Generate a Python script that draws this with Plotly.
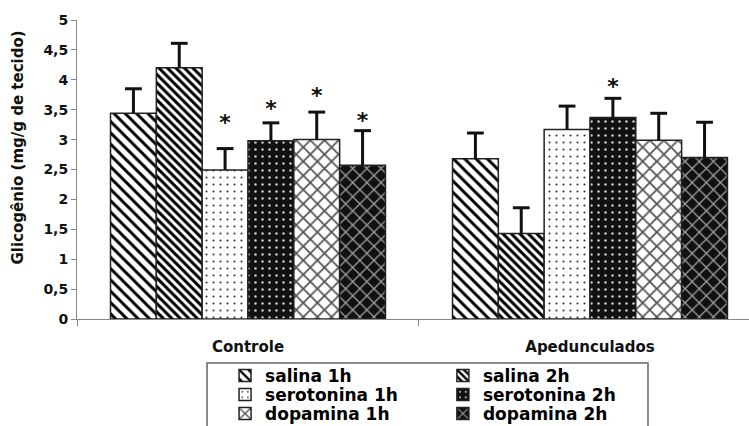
import plotly.graph_objects as go

# Glycogen content per group and treatment (mean and upper SEM)
groups = ["Controle", "Apedunculados"]
treatments = ["salina 1h", "salina 2h", "serotonina 1h",
              "serotonina 2h", "dopamina 1h", "dopamina 2h"]
controle_mean = [3.44, 4.20, 2.49, 2.98, 3.00, 2.57]
controle_err = [0.41, 0.41, 0.36, 0.30, 0.46, 0.58]
aped_mean = [2.68, 1.43, 3.17, 3.37, 2.99, 2.70]
aped_err = [0.43, 0.43, 0.39, 0.32, 0.45, 0.59]
# height of the significance asterisk (None = not significant)
controle_star = [None, None, 3.26, 3.49, 3.71, 3.28]
aped_star = [None, None, None, 3.85, None, None]
y_ticks = [0, 0.5, 1, 1.5, 2, 2.5, 3, 3.5, 4, 4.5, 5]

means = [controle_mean, aped_mean]
errs = [controle_err, aped_err]
stars = [controle_star, aped_star]

FONT = "DejaVu Sans"
n = len(treatments)
group_width = 0.804
bw = group_width / n

# fill patterns: (shape, foreground, background, size, solidity)
patterns = [
    ("\\", "#000000", "#ffffff", 8, 0.36),
    ("\\", "#000000", "#ffffff", 6, 0.5),
    (".", "#333333", "#ffffff", 7, 0.07),
    (".", "#d0d0d0", "#111111", 7, 0.1),
    ("x", "#555555", "#ffffff", 10, 0.33),
    ("x", "#a0a0a0", "#111111", 10, 0.24),
]

legend_pos = [
    (0.2203, -0.1906), (0.5445, -0.1906),
    (0.2203, -0.2542), (0.5445, -0.2542),
    (0.2203, -0.3177), (0.5445, -0.3177),
]

fig = go.Figure()

stem_x, stem_y, cap_x, cap_y, star_x, star_y = [], [], [], [], [], []
for i, name in enumerate(treatments):
    xs = [g + (i - (n - 1) / 2) * bw for g in range(len(groups))]
    ys = [means[g][i] for g in range(len(groups))]
    shp, fg, bg, sz, sol = patterns[i]
    fig.add_trace(go.Bar(
        x=xs, y=ys, width=bw, name=name,
        marker=dict(color=bg, line=dict(color="#222222", width=1.5),
                    pattern=dict(shape=shp, fgcolor=fg, bgcolor=bg,
                                 size=sz, solidity=sol, fillmode="replace")),
        legend="legend" if i == 0 else f"legend{i + 1}",
        hoverinfo="skip",
    ))
    for g in range(len(groups)):
        top = means[g][i] + errs[g][i]
        stem_x += [xs[g], xs[g], None]
        stem_y += [means[g][i], top, None]
        cap_x.append(xs[g])
        cap_y.append(top)
        if stars[g][i] is not None:
            star_x.append(xs[g])
            star_y.append(stars[g][i])

# upper error bars: stem + cap
fig.add_trace(go.Scatter(x=stem_x, y=stem_y, mode="lines",
                         line=dict(color="#111111", width=3),
                         showlegend=False, hoverinfo="skip"))
fig.add_trace(go.Scatter(x=cap_x, y=cap_y, mode="markers",
                         marker=dict(symbol="line-ew", size=12,
                                     line=dict(color="#111111", width=3)),
                         showlegend=False, hoverinfo="skip"))
# significance marks
fig.add_trace(go.Scatter(x=star_x, y=star_y, mode="text", text=["*"] * len(star_x),
                         textposition="middle center",
                         textfont=dict(family=FONT, size=22, color="#111111", weight="bold"),
                         showlegend=False, hoverinfo="skip"))

layout_legends = {}
for i, (lx, ly) in enumerate(legend_pos):
    key = "legend" if i == 0 else f"legend{i + 1}"
    layout_legends[key] = dict(
        x=lx, y=ly, xanchor="left", yanchor="middle",
        bgcolor="rgba(0,0,0,0)", borderwidth=0,
        font=dict(family=FONT, size=17, color="#000000", weight="bold"),
    )

fig.update_layout(
    width=749, height=426,
    margin=dict(l=77, r=0, t=20, b=107, autoexpand=False),
    paper_bgcolor="white", plot_bgcolor="white",
    barmode="overlay",
    separators=",.",
    showlegend=True,
    **layout_legends,
    xaxis=dict(
        range=[-0.5, 1.465], showgrid=False, zeroline=False,
        showline=True, linecolor="#888888", linewidth=1,
        tickvals=[0, 1], ticktext=groups, ticks="", ticklabelstandoff=14,
        tickfont=dict(family=FONT, size=15, color="#111111", weight="bold"),
        minor=dict(tick0=0.5, dtick=1, ticks="outside", ticklen=6,
                   tickcolor="#888888", tickwidth=1, showgrid=False),
    ),
    yaxis=dict(
        range=[0, 5], tickvals=y_ticks, showgrid=False, zeroline=False,
        showline=True, linecolor="#888888", linewidth=1,
        ticks="outside", ticklen=5, tickcolor="#888888",
        tickfont=dict(family=FONT, size=14, color="#111111", weight="bold"),
    ),
    shapes=[dict(type="rect", xref="paper", yref="paper",
                 x0=0.1935, x1=0.8497, y0=-0.1472, y1=-0.6,
                 line=dict(color="#666666", width=1.5), fillcolor="rgba(0,0,0,0)")],
    annotations=[dict(text="Glicogênio (mg/g de tecido)", xref="paper", yref="paper",
                      x=-0.0878, y=0.5736, textangle=-90, showarrow=False,
                      xanchor="center", yanchor="middle",
                      font=dict(family=FONT, size=15, color="#111111", weight="bold"))],
)

fig.write_html("out.html")
